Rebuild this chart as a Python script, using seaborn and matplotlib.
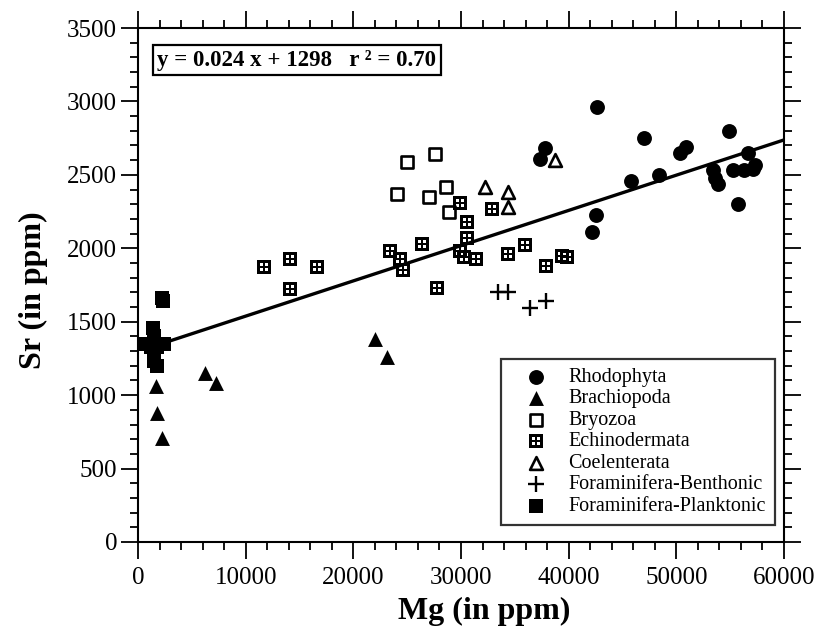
import numpy as np
import seaborn as sns
import matplotlib.pyplot as plt
from matplotlib.path import Path
from matplotlib.ticker import MultipleLocator

# Mg / Sr data (ppm) per group
rhodo_mg = [37300, 37800, 42600, 42500, 42200, 45800, 47000, 48400, 50300, 50900,
            53400, 53600, 53900, 54900, 55300, 55700, 56300, 56700, 57100, 57300]
rhodo_sr = [2610, 2680, 2960, 2230, 2110, 2460, 2750, 2500, 2650, 2690,
            2530, 2480, 2440, 2800, 2530, 2300, 2530, 2650, 2540, 2570]

brach_mg = [1700, 1800, 2200, 6200, 7200, 22000, 23100]
brach_sr = [1060, 880, 710, 1150, 1080, 1380, 1260]

bryo_mg = [24100, 25000, 27000, 27600, 28600, 28900]
bryo_sr = [2370, 2590, 2350, 2640, 2420, 2250]

echino_mg = [11700, 14100, 16600, 14100, 23400, 24300, 24600, 26400, 27800, 29900, 30600,
             30600, 29900, 30300, 31400, 32900, 34400, 35900, 37900, 39400, 39800]
echino_sr = [1870, 1930, 1870, 1720, 1980, 1930, 1850, 2030, 1730, 2310, 2180,
             2070, 1980, 1940, 1930, 2270, 1960, 2020, 1880, 1950, 1940]

coel_mg = [32200, 34400, 34400, 38700]
coel_sr = [2420, 2380, 2280, 2600]

benth_mg = [33400, 34400, 36400, 37900]
benth_sr = [1700, 1700, 1590, 1640]

plank_mg = [2200, 2300, 1400, 1500, 700, 1200, 1800, 2400, 1500, 1800, 1500]
plank_sr = [1660, 1640, 1460, 1400, 1350, 1330, 1330, 1350, 1260, 1200, 1230]

# regression given in the figure
slope, intercept = 0.024, 1298
fit_x = [1000, 60000]


def grid_square():
    # filled square with four small windows -> looks like a boxed cross
    verts, codes = [], []

    def rect(x0, y0, x1, y1, ccw):
        if ccw:
            pts = [(x0, y0), (x1, y0), (x1, y1), (x0, y1), (x0, y0)]
        else:
            pts = [(x0, y0), (x0, y1), (x1, y1), (x1, y0), (x0, y0)]
        verts.extend(pts)
        codes.extend([Path.MOVETO, Path.LINETO, Path.LINETO, Path.LINETO, Path.CLOSEPOLY])

    rect(-1, -1, 1, 1, True)
    a, b = 0.17, 0.58
    for sx in (-1, 1):
        for sy in (-1, 1):
            xs = sorted([sx * a, sx * b])
            ys = sorted([sy * a, sy * b])
            rect(xs[0], ys[0], xs[1], ys[1], False)
    return Path(verts, codes)


sns.set_theme(style="ticks")
plt.rcParams['font.family'] = ['Liberation Serif', 'DejaVu Serif']
plt.rcParams['text.color'] = 'black'
plt.rcParams['axes.labelcolor'] = 'black'
plt.rcParams['xtick.color'] = 'black'
plt.rcParams['ytick.color'] = 'black'

fig = plt.figure(figsize=(8.19, 6.38), dpi=100)
ax = fig.add_axes([0.1685, 0.1505, 0.7888, 0.8056])

sns.lineplot(x=fit_x, y=[slope * v + intercept for v in fit_x], color='black',
             linewidth=2.4, ax=ax, zorder=1)

sns.scatterplot(x=rhodo_mg, y=rhodo_sr, marker='o', s=115, color='black',
                edgecolor='black', linewidth=0, label='Rhodophyta', ax=ax, zorder=3)
sns.scatterplot(x=brach_mg, y=brach_sr, marker='^', s=115, color='black',
                edgecolor='black', linewidth=0, label='Brachiopoda', ax=ax, zorder=3)
sns.scatterplot(x=bryo_mg, y=bryo_sr, marker='s', s=80, color='white',
                edgecolor='black', linewidth=1.9, label='Bryozoa', ax=ax, zorder=3)
sns.scatterplot(x=echino_mg, y=echino_sr, marker=grid_square(), s=95, color='black',
                edgecolor='black', linewidth=0, label='Echinodermata', ax=ax, zorder=3)
sns.scatterplot(x=coel_mg, y=coel_sr, marker='^', s=85, color='white',
                edgecolor='black', linewidth=1.9, label='Coelenterata', ax=ax, zorder=3)
sns.scatterplot(x=benth_mg, y=benth_sr, marker='+', s=120, color='black',
                linewidth=1.7, label='Foraminifera-Benthonic', ax=ax, zorder=3)
sns.scatterplot(x=plank_mg, y=plank_sr, marker='s', s=105, color='black',
                edgecolor='black', linewidth=0, label='Foraminifera-Plankton', ax=ax, zorder=3)

ax.set_xlim(0, 60000)
ax.set_ylim(0, 3500)
ax.xaxis.set_major_locator(MultipleLocator(10000))
ax.xaxis.set_minor_locator(MultipleLocator(2000))
ax.yaxis.set_major_locator(MultipleLocator(500))
ax.yaxis.set_minor_locator(MultipleLocator(100))
ax.tick_params(which='both', direction='out', top=True, right=True, color='black',
               width=1.3, labelsize=18, labelcolor='black')
ax.tick_params(which='major', length=12)
ax.tick_params(which='minor', length=6)
ax.tick_params(axis='x', which='major', pad=6, labeltop=False)
ax.tick_params(axis='y', which='major', pad=3, labelright=False)
for sp in ax.spines.values():
    sp.set_visible(True)
    sp.set_color('black')
    sp.set_linewidth(1.5)

ax.set_xlabel('Mg (in ppm)', fontsize=23, fontweight='bold', labelpad=6, x=0.536)
ax.set_ylabel('Sr (in ppm)', fontsize=23, fontweight='bold', labelpad=14, y=0.49)

ax.text(0.03, 0.958, 'y = 0.024 x + 1298   r ² = 0.70', transform=ax.transAxes,
        fontsize=16.5, fontweight='bold', va='top', ha='left',
        bbox=dict(boxstyle='square,pad=0.2', facecolor='white', edgecolor='black', linewidth=1.6))

handles, labels = ax.get_legend_handles_labels()
labels = [l if l != 'Foraminifera-Plankton' else 'Foraminifera-Planktonic' for l in labels]
leg = ax.legend(handles, labels, loc='lower right', bbox_to_anchor=(0.986, 0.033),
                borderaxespad=0, fontsize=14.5, frameon=True, fancybox=False,
                handletextpad=0.3, labelspacing=0.12, borderpad=0.45, handlelength=2.6)
leg.get_frame().set_edgecolor('black')
leg.get_frame().set_linewidth(1.6)

fig.savefig('out.png', dpi=100)
